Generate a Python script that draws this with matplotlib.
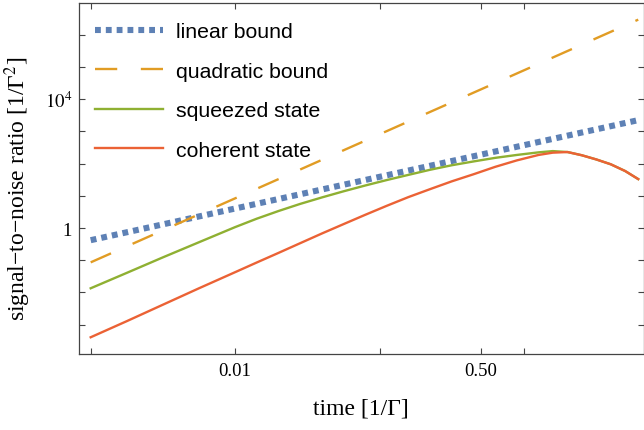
import matplotlib
matplotlib.use("Agg")
import matplotlib.pyplot as plt
from matplotlib.ticker import FixedLocator, FixedFormatter, NullLocator

plt.rcParams["mathtext.fontset"] = "stix"
plt.rcParams["lines.scale_dashes"] = False

BLUE, ORANGE, GREEN, RED = "#5E81B5", "#E19C24", "#8FB032", "#EB6235"

# values (log-log axes)
t_bound = [0.001, 6.17]
linear_bound = [0.42, 2240]
quadratic_bound = [0.0861, 2.95e6]

t_state = [0.001, 0.00178, 0.00316, 0.00562, 0.01, 0.0141, 0.0200, 0.0282,
           0.0398, 0.0562, 0.0794, 0.112, 0.158, 0.224, 0.316, 0.447, 0.631,
           0.891, 1.26, 1.58, 2.00, 2.51, 3.16, 3.98, 5.01, 6.17]
squeezed = [0.0135, 0.0407, 0.123, 0.363, 1.07, 1.95, 3.39, 5.62,
            8.91, 13.8, 20.9, 30.9, 44.7, 64.6, 89.1, 117, 151,
            186, 224, 245, 229, 182, 135, 95.5, 58.9, 33.1]
coherent = [4.07e-4, 1.29e-3, 4.17e-3, 0.0135, 0.0427, 0.0851, 0.170, 0.339,
            0.676, 1.32, 2.57, 4.90, 9.12, 16.2, 28.2, 46.8, 79.4,
            126, 186, 219, 229, 182, 135, 95.5, 58.9, 33.1]

x_ticks = [0.001, 0.01, 0.1, 0.5, 1]
x_labels = ["", "0.01", "", "0.50", ""]
y_ticks = [1e-3, 1e-2, 1e-1, 1, 10, 1e2, 1e3, 1e4, 1e5, 1e6]
y_labels = ["", "", "", "1", "", "", "", "$10^4$", "", ""]

fig = plt.figure(figsize=(6.44, 4.31), dpi=100)
ax = fig.add_axes([79 / 644, 76 / 431, 564.5 / 644, 351 / 431])

ax.plot(t_bound, linear_bound, color=BLUE, lw=4.4, dashes=(4.2, 3.6),
        label="linear bound")
ax.plot(t_bound, quadratic_bound, color=ORANGE, lw=1.7, dashes=(16, 17),
        label="quadratic bound")
ax.plot(t_state, squeezed, color=GREEN, lw=1.7, label="squeezed state")
ax.plot(t_state, coherent, color=RED, lw=1.7, label="coherent state")

ax.set_xscale("log")
ax.set_yscale("log")
ax.set_xlim(8.3e-4, 6.71)
ax.set_ylim(1.23e-4, 9.7e6)

ax.xaxis.set_major_locator(FixedLocator(x_ticks))
ax.xaxis.set_major_formatter(FixedFormatter(x_labels))
ax.yaxis.set_major_locator(FixedLocator(y_ticks))
ax.yaxis.set_major_formatter(FixedFormatter(y_labels))
ax.xaxis.set_minor_locator(NullLocator())
ax.yaxis.set_minor_locator(NullLocator())
ax.tick_params(direction="in", length=4, width=0.8, color="#444",
               top=True, right=True, labelsize=13.5, pad=6)
ax.tick_params(axis="y", pad=5)
for lab in ax.get_xticklabels() + ax.get_yticklabels():
    lab.set_family("Liberation Serif")
for s in ax.spines.values():
    s.set_color("#444")
    s.set_linewidth(0.9)

ax.set_xlabel("time [1/Γ]", family="Liberation Serif", fontsize=17, labelpad=13)
ax.set_ylabel("signal−to−noise ratio [1/Γ$^2$]", family="Liberation Serif",
              fontsize=17)
ax.yaxis.set_label_coords(-46 / 564.5, 0.472)

ax.legend(loc="upper left", bbox_to_anchor=(95 / 644, 1 - 23 / 431),
          bbox_transform=fig.transFigure, frameon=False,
          prop={"family": "Liberation Sans", "size": 15.3},
          handlelength=3.2, handletextpad=0.6, labelspacing=0.97,
          borderaxespad=0, borderpad=0)

fig.savefig("out.png", dpi=100)
